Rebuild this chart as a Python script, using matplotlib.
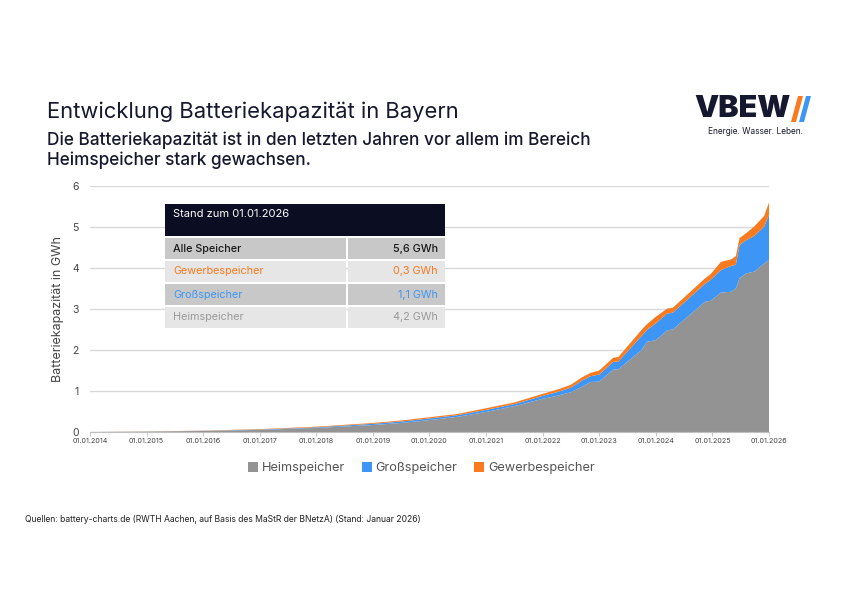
import pandas as pd
import matplotlib
matplotlib.use("Agg")
import matplotlib.pyplot as plt
import matplotlib.dates as mdates
from matplotlib.patches import Rectangle, Polygon

plt.rcParams['font.family'] = ['Inter', 'DejaVu Sans']

# Daten, GWh
dates = ["2014-01-01", "2015-01-01", "2016-01-01", "2017-01-01", "2018-01-01",
         "2019-01-01", "2019-07-01", "2020-01-01", "2020-07-01", "2021-01-01",
         "2021-07-01", "2022-01-01", "2022-04-01", "2022-07-01", "2022-09-10",
         "2022-11-05", "2023-01-01", "2023-04-01", "2023-05-05", "2023-10-01",
         "2023-11-05", "2024-01-01", "2024-03-15", "2024-04-20", "2024-11-15",
         "2024-12-20", "2025-02-25", "2025-05-01", "2025-06-01", "2025-06-25",
         "2025-08-07", "2025-09-27", "2025-12-01", "2026-01-01"]
heim = [0.0, 0.008, 0.025, 0.05, 0.10, 0.17, 0.22, 0.29, 0.37, 0.49,
        0.63, 0.81, 0.88, 0.97, 1.10, 1.22, 1.23, 1.52, 1.53, 2.00,
        2.20, 2.24, 2.48, 2.50, 3.18, 3.20, 3.40, 3.42, 3.50, 3.75,
        3.87, 3.91, 4.11, 4.20]
gross = [0.0, 0.002, 0.004, 0.01, 0.015, 0.03, 0.035, 0.04, 0.04, 0.05,
         0.05, 0.07, 0.09, 0.11, 0.15, 0.14, 0.17, 0.19, 0.19, 0.34,
         0.29, 0.41, 0.41, 0.41, 0.44, 0.51, 0.55, 0.63, 0.58, 0.81,
         0.81, 0.87, 0.90, 1.10]
gewerbe = [0.0, 0.003, 0.005, 0.01, 0.015, 0.02, 0.025, 0.03, 0.03, 0.04,
           0.04, 0.05, 0.06, 0.07, 0.08, 0.08, 0.10, 0.10, 0.11, 0.15,
           0.14, 0.16, 0.12, 0.12, 0.13, 0.14, 0.20, 0.16, 0.21, 0.17,
           0.17, 0.23, 0.26, 0.30]

series_names = ["Heimspeicher", "Großspeicher", "Gewerbespeicher"]
series_colors = ["#939393", "#3d96f5", "#f97a1f"]

table_header = "Stand zum 01.01.2026"
table_labels = ["Alle Speicher", "Gewerbespeicher", "Großspeicher", "Heimspeicher"]
table_values = ["5,6 GWh", "0,3 GWh", "1,1 GWh", "4,2 GWh"]
table_text_colors = ["#1a1a1a", "#f97a1f", "#3d96f5", "#9a9a9a"]
table_bg = ["#c8c8c8", "#e6e6e6", "#c8c8c8", "#e6e6e6"]

x = pd.to_datetime(dates)
W, H = 842, 595
fig = plt.figure(figsize=(W / 100, H / 100), dpi=100)

def fx(px):
    return px / W

def fy(py):
    return 1 - py / H

ax = fig.add_axes([fx(90), fy(432), fx(769) - fx(90), fy(186) - fy(432)])
ax.stackplot(x, heim, gross, gewerbe, colors=series_colors, labels=series_names,
             linewidth=0)
ax.set_xlim(pd.Timestamp("2014-01-01"), pd.Timestamp("2026-01-01"))
ax.set_ylim(0, 6)
ax.set_yticks(range(0, 7))
ax.grid(axis='y', color='#d9d9d9', linewidth=1)
ax.set_axisbelow(True)
for s in ['top', 'right', 'left']:
    ax.spines[s].set_visible(False)
ax.spines['bottom'].set_color('#bfbfbf')
ax.xaxis.set_major_locator(mdates.YearLocator())
ax.xaxis.set_major_formatter(mdates.DateFormatter("%d.%m.%Y"))
ax.tick_params(axis='x', labelsize=5.2, colors='#444444', length=3, width=0.6,
               color='#bfbfbf', pad=1.5)
ax.tick_params(axis='y', labelsize=7.5, colors='#444444', length=0, pad=8)
ax.set_ylabel("Batteriekapazität in GWh", fontsize=9, color='#444444', labelpad=6)

ax.legend(loc='upper center', bbox_to_anchor=(0.488, -0.075), ncol=3, frameon=False,
          fontsize=9.2, labelcolor='#555555', handlelength=0.8, handleheight=0.8,
          handletextpad=0.3, columnspacing=1.3)

# Tabelle
fig.patches.append(Rectangle((fx(165), fy(236)), fx(445) - fx(165), fy(204) - fy(236),
                             transform=fig.transFigure, facecolor='#0b0d22',
                             edgecolor='none', zorder=5))
fig.text(fx(173), fy(214), table_header, fontsize=8, color='white', va='center', zorder=6)
row_top = 238
row_h = 23
for i, (lab, val) in enumerate(zip(table_labels, table_values)):
    top = row_top + i * row_h
    bot = top + row_h - 2
    for x0, x1 in [(165, 346), (348, 445)]:
        fig.patches.append(Rectangle((fx(x0), fy(bot)), fx(x1) - fx(x0), fy(top) - fy(bot),
                                     transform=fig.transFigure, facecolor=table_bg[i],
                                     edgecolor='none', zorder=5))
    cy = (top + bot) / 2
    w = 'medium' if i == 0 else 'normal'
    fig.text(fx(173), fy(cy), lab, fontsize=7.8, color=table_text_colors[i],
             va='center', zorder=6, fontweight=w)
    fig.text(fx(438), fy(cy), val, fontsize=7.8, color=table_text_colors[i],
             va='center', ha='right', zorder=6, fontweight=w)

# Titel
fig.text(fx(47), fy(112), "Entwicklung Batteriekapazität in Bayern", fontsize=15.8,
         color='#15182e', va='center')
fig.text(fx(47), fy(140), "Die Batteriekapazität ist in den letzten Jahren vor allem im Bereich",
         fontsize=12.4, color='#15182e', va='center', fontweight='medium')
fig.text(fx(47), fy(160), "Heimspeicher stark gewachsen.",
         fontsize=12.4, color='#15182e', va='center', fontweight='medium')

# Logo
fig.text(fx(694), fy(109), "VBEW", fontsize=22, fontweight='black', color='#15182e',
         va='center')
fig.patches.append(Polygon([(fx(791), fy(122)), (fx(796), fy(122)), (fx(803), fy(96)),
                            (fx(798), fy(96))], closed=True, transform=fig.transFigure,
                           facecolor='#f97a1f', edgecolor='none'))
fig.patches.append(Polygon([(fx(799), fy(122)), (fx(804), fy(122)), (fx(811), fy(96)),
                            (fx(806), fy(96))], closed=True, transform=fig.transFigure,
                           facecolor='#3d96f5', edgecolor='none'))
fig.text(fx(755), fy(131), "Energie. Wasser. Leben.", fontsize=6, color='#15182e',
         va='center', ha='center')

# Quelle
fig.text(fx(25), fy(520), "Quellen: battery-charts.de (RWTH Aachen, auf Basis des MaStR der BNetzA) (Stand: Januar 2026)",
         fontsize=6.2, color='#222222', va='center')

fig.savefig("out.png", dpi=100)
